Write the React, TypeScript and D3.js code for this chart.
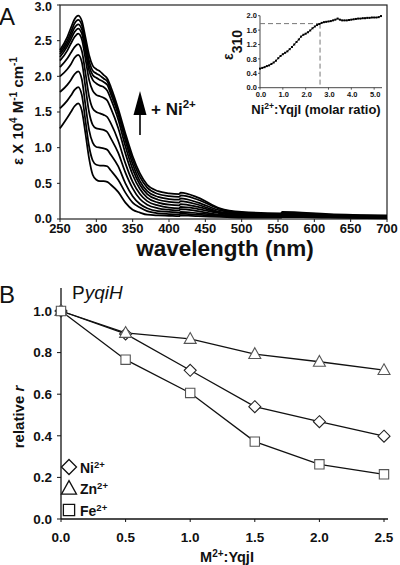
import React from 'react';
import * as d3 from 'd3';

const FONT = "'Liberation Sans', Arial, Helvetica, sans-serif";

// ---------- Panel A: titration spectra ----------
const WAVELENGTHS = [250, 260, 265, 270, 275, 280, 285, 290, 295, 300, 305, 310, 315, 320, 330, 340, 350, 360, 370, 385, 400, 414, 416, 440, 470, 500, 554, 556, 620, 700];

const SPEC_0 = [1.27, 1.42, 1.5, 1.58, 1.62, 1.52, 1.2, 0.85, 0.62, 0.55, 0.53, 0.53, 0.52, 0.48, 0.38, 0.23, 0.13, 0.09, 0.06, 0.05, 0.045, 0.04, 0.05, 0.04, 0.03, 0.02, 0.02, 0.03, 0.02, 0.01];
const SPEC_1 = [1.55, 1.66, 1.73, 1.81, 1.85, 1.74, 1.38, 1.02, 0.82, 0.76, 0.75, 0.75, 0.74, 0.68, 0.55, 0.37, 0.23, 0.16, 0.11, 0.08, 0.07, 0.065, 0.075, 0.06, 0.04, 0.03, 0.025, 0.035, 0.025, 0.015];
const SPEC_2 = [1.78, 1.88, 1.95, 2.03, 2.07, 1.96, 1.6, 1.25, 1.07, 1.01, 1.0, 0.99, 0.97, 0.9, 0.74, 0.5, 0.32, 0.21, 0.15, 0.11, 0.1, 0.09, 0.1, 0.08, 0.05, 0.035, 0.03, 0.04, 0.03, 0.02];
const SPEC_3 = [2.0, 2.1, 2.17, 2.26, 2.3, 2.2, 1.85, 1.5, 1.32, 1.27, 1.26, 1.25, 1.22, 1.13, 0.93, 0.65, 0.43, 0.28, 0.2, 0.15, 0.13, 0.12, 0.14, 0.11, 0.06, 0.04, 0.035, 0.045, 0.035, 0.025];
const SPEC_4 = [2.13, 2.25, 2.33, 2.41, 2.45, 2.36, 2.05, 1.72, 1.55, 1.5, 1.48, 1.46, 1.43, 1.34, 1.1, 0.78, 0.52, 0.35, 0.25, 0.19, 0.16, 0.15, 0.17, 0.14, 0.08, 0.05, 0.04, 0.05, 0.04, 0.03];
const SPEC_5 = [2.22, 2.36, 2.46, 2.55, 2.6, 2.52, 2.25, 1.95, 1.8, 1.74, 1.72, 1.7, 1.66, 1.55, 1.28, 0.92, 0.62, 0.42, 0.3, 0.23, 0.2, 0.19, 0.21, 0.17, 0.09, 0.06, 0.05, 0.06, 0.045, 0.03];
const SPEC_6 = [2.27, 2.42, 2.52, 2.62, 2.67, 2.6, 2.35, 2.08, 1.95, 1.9, 1.87, 1.85, 1.8, 1.68, 1.4, 1.02, 0.7, 0.48, 0.35, 0.27, 0.24, 0.23, 0.25, 0.2, 0.1, 0.07, 0.05, 0.07, 0.05, 0.035];
const SPEC_7 = [2.31, 2.46, 2.57, 2.68, 2.73, 2.66, 2.42, 2.15, 2.02, 1.98, 1.95, 1.92, 1.88, 1.75, 1.47, 1.1, 0.77, 0.53, 0.39, 0.31, 0.28, 0.27, 0.29, 0.23, 0.12, 0.08, 0.06, 0.08, 0.055, 0.04];
const SPEC_8 = [2.34, 2.5, 2.62, 2.74, 2.79, 2.72, 2.48, 2.22, 2.08, 2.04, 2.01, 1.97, 1.93, 1.8, 1.51, 1.15, 0.83, 0.59, 0.44, 0.35, 0.32, 0.31, 0.33, 0.27, 0.14, 0.09, 0.07, 0.09, 0.06, 0.045];
const SPEC_9 = [2.37, 2.55, 2.68, 2.8, 2.85, 2.78, 2.55, 2.3, 2.15, 2.1, 2.07, 2.02, 1.97, 1.85, 1.55, 1.2, 0.88, 0.64, 0.48, 0.39, 0.36, 0.35, 0.37, 0.3, 0.15, 0.1, 0.08, 0.1, 0.07, 0.05];
const SPECTRA = [SPEC_0, SPEC_1, SPEC_2, SPEC_3, SPEC_4, SPEC_5, SPEC_6, SPEC_7, SPEC_8, SPEC_9];

const A_X_TICKS = [250, 300, 350, 400, 450, 500, 550, 600, 650, 700];
const A_Y_TICKS = [0, 0.5, 1.0, 1.5, 2.0, 2.5, 3.0];

// inset: epsilon at 310 nm vs Ni:YqjI ratio
const INSET_RATIO = [0.0, 0.1, 0.2, 0.3, 0.4, 0.5, 0.6, 0.7, 0.8, 0.9, 1.0, 1.1, 1.2, 1.3, 1.4, 1.5, 1.6, 1.7, 1.8, 1.9, 2.0, 2.1, 2.2, 2.3, 2.4, 2.5, 2.6, 2.7, 2.8, 2.9, 3.0, 3.1, 3.2, 3.3, 3.4, 3.5, 3.6, 3.7, 3.8, 3.9, 4.0, 4.1, 4.2, 4.3, 4.4, 4.5, 4.6, 4.7, 4.8, 4.9, 5.0, 5.1, 5.2, 5.3];
const INSET_EPS = [0.53, 0.55, 0.57, 0.6, 0.62, 0.66, 0.7, 0.75, 0.82, 0.88, 0.93, 0.97, 1.01, 1.07, 1.13, 1.2, 1.27, 1.34, 1.42, 1.47, 1.5, 1.54, 1.59, 1.65, 1.7, 1.74, 1.77, 1.8, 1.82, 1.83, 1.84, 1.85, 1.87, 1.89, 1.92, 1.89, 1.87, 1.87, 1.87, 1.88, 1.89, 1.9, 1.91, 1.92, 1.92, 1.93, 1.93, 1.94, 1.94, 1.95, 1.95, 1.95, 1.96, 1.99];
const INSET_X_TICKS = [0, 1, 2, 3, 4, 5];
const INSET_Y_TICKS = [0, 0.4, 0.8, 1.2, 1.6, 2.0];
const INSET_BREAK_X = 2.63;
const INSET_BREAK_Y = 1.78;

// ---------- Panel B: relative r ----------
const RATIOS = [0, 0.5, 1.0, 1.5, 2.0, 2.5];
const NI = [1.0, 0.89, 0.715, 0.54, 0.468, 0.398];
const ZN = [1.0, 0.895, 0.866, 0.793, 0.756, 0.716];
const FE = [1.0, 0.766, 0.606, 0.372, 0.263, 0.215];
const B_X_TICKS = [0, 0.5, 1.0, 1.5, 2.0, 2.5];
const B_Y_TICKS = [0, 0.2, 0.4, 0.6, 0.8, 1.0];

type Shape = 'diamond' | 'triangle' | 'square';

function markerPath(shape: Shape, s: number): string {
  if (shape === 'diamond') return `M0,${-s}L${s},0L0,${s}L${-s},0Z`;
  if (shape === 'triangle') return `M0,${-s * 1.05}L${s},${s * 0.75}L${-s},${s * 0.75}Z`;
  const h = s * 0.78;
  return `M${-h},${-h}H${h}V${h}H${-h}Z`;
}

const SERIES: { name: string; values: number[]; shape: Shape; stroke: string }[] = [
  { name: 'Ni', values: NI, shape: 'diamond', stroke: '#222' },
  { name: 'Zn', values: ZN, shape: 'triangle', stroke: '#555' },
  { name: 'Fe', values: FE, shape: 'square', stroke: '#555' },
];

export default function App() {
  // Panel A scales
  const xA = d3.scaleLinear().domain([250, 700]).range([60, 387]);
  const yA = d3.scaleLinear().domain([0, 3]).range([219, 5]);
  const specLine = d3
    .line<number>()
    .x((_, i) => xA(WAVELENGTHS[i]))
    .y((d) => yA(d))
    .curve(d3.curveMonotoneX);

  // Inset scales
  const xI = d3.scaleLinear().domain([0, 5.3]).range([260, 381]);
  const yI = d3.scaleLinear().domain([0, 2]).range([87.7, 15.7]);
  const insetLine = d3
    .line<number>()
    .x((_, i) => xI(INSET_RATIO[i]))
    .y((d) => yI(d));

  // Panel B scales
  const xB = d3.scaleLinear().domain([0, 2.5]).range([61, 384]);
  const yB = d3.scaleLinear().domain([0, 1]).range([519, 311]);
  const bLine = d3
    .line<number>()
    .x((_, i) => xB(RATIOS[i]))
    .y((d) => yB(d));

  const fmt1 = d3.format('.1f');

  return (
    <svg
      width={400}
      height={565}
      style={{ position: 'absolute', left: 0, top: 0, background: '#fff' }}
      fontFamily={FONT}
    >
      <rect x={0} y={0} width={400} height={565} fill="#fff" />

      {/* ===== Panel A ===== */}
      <text x={-1} y={25} fontSize={24} fill="#111">A</text>

      {/* frame */}
      <rect x={60} y={5} width={327} height={214} fill="none" stroke="#222" strokeWidth={1.2} />

      {/* spectra */}
      <g fill="none" stroke="#000" strokeWidth={1.75} strokeLinejoin="round">
        {SPECTRA.map((s, i) => (
          <path key={i} d={specLine(s) || ''} />
        ))}
      </g>

      {/* y ticks */}
      {A_Y_TICKS.map((t) => (
        <g key={'ay' + t}>
          <line x1={57} x2={60} y1={yA(t)} y2={yA(t)} stroke="#222" strokeWidth={1} />
          <text x={52} y={Math.max(yA(t), 6.5)} dy="0.35em" textAnchor="end" fontSize={12.5} fontWeight="bold" fill="#111">
            {fmt1(t)}
          </text>
        </g>
      ))}
      {/* x ticks */}
      {A_X_TICKS.map((t) => (
        <g key={'ax' + t}>
          <line x1={xA(t)} x2={xA(t)} y1={219} y2={222} stroke="#222" strokeWidth={1} />
          <text x={xA(t)} y={233} textAnchor="middle" fontSize={13} fontWeight="bold" fill="#111">
            {t}
          </text>
        </g>
      ))}

      <text x={225} y={256} textAnchor="middle" fontSize={22.5} fontWeight="bold" fill="#111">
        wavelength (nm)
      </text>

      <text transform="translate(23,111) rotate(-90)" textAnchor="middle" fontSize={15} fontWeight="bold" fill="#111">
        ε X 10<tspan dy={-6} fontSize={10}>4</tspan>
        <tspan dy={6}> M</tspan>
        <tspan dy={-6} fontSize={10}>-1</tspan>
        <tspan dy={6}> cm</tspan>
        <tspan dy={-6} fontSize={10}>-1</tspan>
      </text>

      {/* arrow + Ni2+ */}
      <path d="M140,91L146.5,115L133.5,115Z" fill="#000" />
      <line x1={140} x2={140} y1={114} y2={135} stroke="#000" strokeWidth={1.6} />
      <text x={151} y={115} fontSize={17} fontWeight="bold" fill="#111">
        + Ni<tspan dy={-7} fontSize={11.5}>2+</tspan>
      </text>

      {/* ---- inset ---- */}
      <line x1={xI(0)} x2={xI(0)} y1={yI(2)} y2={yI(0)} stroke="#333" strokeWidth={0.9} />
      <line x1={xI(0)} x2={382} y1={yI(0)} y2={yI(0)} stroke="#333" strokeWidth={0.9} />
      {INSET_Y_TICKS.map((t) => (
        <g key={'iy' + t}>
          <line x1={xI(0) - 2} x2={xI(0)} y1={yI(t)} y2={yI(t)} stroke="#333" strokeWidth={0.8} />
          <text x={xI(0) - 3} y={yI(t)} dy="0.35em" textAnchor="end" fontSize={7.5} fontWeight="bold" fill="#111">
            {fmt1(t)}
          </text>
        </g>
      ))}
      {INSET_X_TICKS.map((t) => (
        <g key={'ix' + t}>
          <line x1={xI(t)} x2={xI(t)} y1={yI(0)} y2={yI(0) + 2} stroke="#333" strokeWidth={0.8} />
          <text x={xI(t) + 1} y={yI(0) + 9.5} textAnchor="middle" fontSize={7.5} fontWeight="bold" fill="#111">
            {fmt1(t)}
          </text>
        </g>
      ))}
      <g stroke="#777" strokeWidth={1} strokeDasharray="5,3" fill="none">
        <line x1={xI(0)} x2={xI(INSET_BREAK_X)} y1={yI(INSET_BREAK_Y)} y2={yI(INSET_BREAK_Y)} />
        <line x1={xI(INSET_BREAK_X)} x2={xI(INSET_BREAK_X)} y1={yI(INSET_BREAK_Y)} y2={yI(0)} />
      </g>
      <path d={insetLine(INSET_EPS) || ''} fill="none" stroke="#000" strokeWidth={0.9} />
      {INSET_EPS.map((v, i) => (
        <rect key={'ip' + i} x={xI(INSET_RATIO[i]) - 1} y={yI(v) - 1} width={2} height={2} fill="#000" />
      ))}
      <text transform="translate(233,45) rotate(-90)" textAnchor="middle" fontWeight="bold" fill="#111">
        <tspan fontSize={14}>ε</tspan>
        <tspan dy={9} fontSize={14}>310</tspan>
      </text>
      <text x={316} y={114} textAnchor="middle" fontSize={13} fontWeight="bold" fill="#111">
        Ni<tspan dy={-5} fontSize={8.5}>2+</tspan>
        <tspan dy={5}>:YqjI (molar ratio)</tspan>
      </text>

      {/* ===== Panel B ===== */}
      <text x={-1} y={303} fontSize={24} fill="#111">B</text>
      <text x={72} y={299} fontSize={19} fill="#111">
        P<tspan fontStyle="italic">yqiH</tspan>
      </text>

      {/* axes */}
      <line x1={61} x2={61} y1={288} y2={519} stroke="#111" strokeWidth={1.3} />
      <line x1={61} x2={388} y1={519} y2={519} stroke="#111" strokeWidth={1.3} />
      {B_Y_TICKS.map((t) => (
        <g key={'by' + t}>
          <line x1={57} x2={61} y1={yB(t)} y2={yB(t)} stroke="#111" strokeWidth={1} />
          <text x={52} y={yB(t)} dy="0.35em" textAnchor="end" fontSize={13.5} fontWeight="bold" fill="#111">
            {fmt1(t)}
          </text>
        </g>
      ))}
      {B_X_TICKS.map((t) => (
        <g key={'bx' + t}>
          <line x1={xB(t)} x2={xB(t)} y1={519} y2={522} stroke="#111" strokeWidth={1} />
          <text x={xB(t)} y={541.5} textAnchor="middle" fontSize={13.5} fontWeight="bold" fill="#111">
            {fmt1(t)}
          </text>
        </g>
      ))}
      <text x={227} y={562} textAnchor="middle" fontSize={14.5} fontWeight="bold" fill="#111">
        M<tspan dy={-5} fontSize={10}>2+</tspan>
        <tspan dy={5}>:YqjI</tspan>
      </text>
      <text transform="translate(24,417) rotate(-90)" textAnchor="middle" fontSize={15} fontWeight="bold" fill="#111">
        relative <tspan fontStyle="italic">r</tspan>
      </text>

      {/* lines */}
      <g fill="none" stroke="#111" strokeWidth={1.3}>
        {SERIES.map((s) => (
          <path key={'l' + s.name} d={bLine(s.values) || ''} />
        ))}
      </g>
      {/* markers */}
      {SERIES.map((s) =>
        s.values.map((v, i) => (
          <path
            key={s.name + i}
            d={markerPath(s.shape, 6)}
            transform={`translate(${xB(RATIOS[i])},${yB(v)})`}
            fill="#fff"
            stroke={s.stroke}
            strokeWidth={1.1}
          />
        ))
      )}

      {/* legend */}
      {SERIES.map((s, i) => {
        const cy = [467, 488.5, 510][i];
        return (
          <g key={'lg' + s.name}>
            <path d={markerPath(s.shape, s.shape === 'square' ? 7.2 : 7.5)} transform={`translate(69,${cy})`} fill="#fff" stroke="#111" strokeWidth={1.3} />
            <text x={80} y={cy + 5.5} fontSize={14} fontWeight="bold" fill="#111">
              {s.name}
              <tspan dy={-5} fontSize={9.5}>2+</tspan>
            </text>
          </g>
        );
      })}
    </svg>
  );
}
